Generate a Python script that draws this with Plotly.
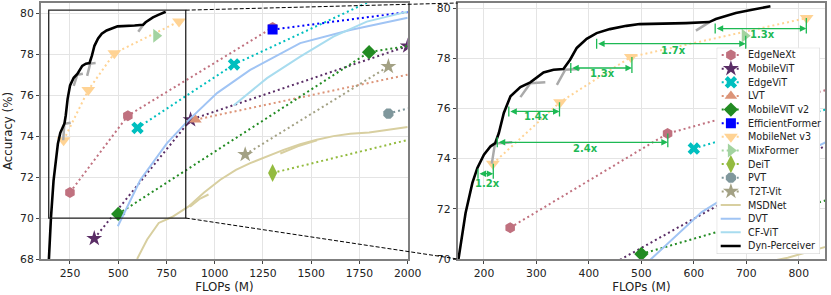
import plotly.graph_objects as go

# ------------------------------------------------------------------ data
edgenext_x = [250, 550, 1300]
edgenext_y = [71.25, 75.0, 79.3]
mobilevit_x = [376, 875, 2000]
mobilevit_y = [69.0, 74.8, 78.4]
edgevit_x = [600, 1100, 1900]
edgevit_y = [74.4, 77.5, 81.0]
lvt_x = [900, 2500]
lvt_y = [74.8, 78.0]
mobilevitv2_x = [500, 1800, 2800]
mobilevitv2_y = [70.2, 78.1, 79.6]
efficientformer_x = [1300, 3900]
efficientformer_y = [79.2, 82.4]
mobilenetv3_x = [217, 345, 480, 815]
mobilenetv3_y = [73.8, 76.25, 78.05, 79.6]
mixformer_x = [697]
mixformer_y = [78.9]
deit_x = [1300, 4600]
deit_y = [72.2, 79.8]
pvt_x = [1900, 3800]
pvt_y = [75.1, 79.8]
t2t_x = [1158, 1900]
t2t_y = [73.1, 77.4]

msdnet_x = [598, 650, 710, 779, 865, 945, 1029, 1110, 1184, 1270, 1357, 1443, 1529, 1615, 1702, 1800, 1900, 2000]
msdnet_y = [68.0, 68.95, 69.76, 70.05, 70.57, 71.25, 71.87, 72.35, 72.68, 73.0, 73.33, 73.6, 73.82, 74.0, 74.12, 74.18, 74.3, 74.45]
msdnet_b_x = [872, 925, 968, None, 1340, 1430, 1530]
msdnet_b_y = [70.55, 70.95, 71.15, None, 73.15, 73.5, 73.8]

dvt_x = [498, 615, 753, 857, 1012, 1184, 1443, 1702, 2000]
dvt_y = [69.6, 71.87, 73.66, 74.71, 76.1, 77.23, 78.54, 79.18, 79.78]
cfvit_x = [1098, 1271, 1443, 1615, 1788, 2000]
cfvit_y = [75.5, 76.83, 77.88, 78.86, 79.59, 80.08]

dyn_x = [141, 145, 151.5, 165, 178, 187.5, 200, 212.7, 221.6, 228.4, 237.9, 250.6, 269.5, 288.4,
         313.6, 332.6, 351.5, 364.2, 376.9, 395.8, 414.8, 440, 471.6, 496.8, 585, 629.3, 642,
         680, 711, 746]
dyn_y = [68.0, 69.0, 70.0, 71.83, 73.03, 73.63, 74.16, 74.49, 74.62, 75.02, 75.82, 76.48, 76.85, 77.04,
         77.43, 77.54, 77.57, 77.94, 78.41, 78.77, 79.0, 79.16, 79.29, 79.36, 79.40, 79.44, 79.56,
         79.8, 79.93, 80.07]
dyn_alt_x = [215, 221, 254, None, 269.5, 288.4, 317, None, 339, 355, 383, None, 604, 629]
dyn_alt_y = [73.8, 74.6, 74.65, None, 76.45, 77.0, 77.04, None, 76.94, 77.54, 77.57, None, 79.1, 79.43]

# speed-up annotations (right panel)
arrow_x0 = [188.7, 225.4, 247.4, 365.5, 414.8, 640.7]
arrow_x1 = [217.8, 550.4, 344.0, 482.0, 698.9, 814.4]
arrow_y = [73.4, 74.65, 75.88, 77.61, 78.58, 79.18]
arrow_top = [73.8, 75.0, 76.25, 78.05, 78.9, 79.6]
arrow_labels = ["1.2x", "2.4x", "1.4x", "1.3x", "1.7x", "1.3x"]
label_x = [206, 392.6, 300, 426, 561, 730]
label_y = [73.0, 74.42, 75.66, 77.41, 78.31, 78.96]

left_xticks = [250, 500, 750, 1000, 1250, 1500, 1750, 2000]
left_yticks = [68, 70, 72, 74, 76, 78, 80]
right_xticks = [200, 300, 400, 500, 600, 700, 800]
right_yticks = [70, 72, 74, 76, 78, 80]
zoom_box_x = [140, 850]
zoom_box_y = [70, 80.15]

# ------------------------------------------------------------------ styles
series = [
    dict(name="EdgeNeXt", x=edgenext_x, y=edgenext_y, color="#c0717f", symbol="hexagon", size=11),
    dict(name="MobileViT", x=mobilevit_x, y=mobilevit_y, color="#5a2d66", symbol="star", size=12),
    dict(name="EdgeViT", x=edgevit_x, y=edgevit_y, color="#00bfbf", symbol="x", size=11),
    dict(name="LVT", x=lvt_x, y=lvt_y, color="#dc9478", symbol="triangle-up", size=11),
    dict(name="MobileViT v2", x=mobilevitv2_x, y=mobilevitv2_y, color="#228b22", symbol="diamond", size=11),
    dict(name="EfficientFormer", x=efficientformer_x, y=efficientformer_y, color="#0000ff", symbol="square", size=10),
    dict(name="MobileNet v3", x=mobilenetv3_x, y=mobilenetv3_y, color="#ffd394", symbol="triangle-down", size=12),
    dict(name="MixFormer", x=mixformer_x, y=mixformer_y, color="#a3d3a0", symbol="triangle-right", size=12),
    dict(name="DeiT", x=deit_x, y=deit_y, color="#93bb3f", symbol="diamond-tall", size=13),
    dict(name="PVT", x=pvt_x, y=pvt_y, color="#7f979c", symbol="octagon", size=11),
    dict(name="T2T-Vit", x=t2t_x, y=t2t_y, color="#a3a184", symbol="star", size=12),
]
lines = [
    dict(name="MSDNet", x=msdnet_x, y=msdnet_y, color="#d8cfa0", width=2),
    dict(name="DVT", x=dvt_x, y=dvt_y, color="#a0c4f4", width=2),
    dict(name="CF-ViT", x=cfvit_x, y=cfvit_y, color="#a8dcef", width=2),
    dict(name="Dyn-Perceiver", x=dyn_x, y=dyn_y, color="black", width=2.6),
]
GREEN = "#1db954"
FONT = "DejaVu Sans"
DOT = "2px,3px"

fig = go.Figure()

for xa, ya in (("x", "y"), ("x2", "y2")):
    for s in series:
        fig.add_trace(go.Scatter(x=s["x"], y=s["y"], mode="lines+markers", xaxis=xa, yaxis=ya,
                                 line=dict(color=s["color"], width=2, dash=DOT),
                                 marker=dict(symbol=s["symbol"], size=s["size"], color=s["color"],
                                             line=dict(width=0)),
                                 showlegend=False, hoverinfo="skip"))
    for s in lines[:3]:
        fig.add_trace(go.Scatter(x=s["x"], y=s["y"], mode="lines", xaxis=xa, yaxis=ya,
                                 line=dict(color=s["color"], width=s["width"]),
                                 showlegend=False, hoverinfo="skip"))
        if s["name"] == "MSDNet":
            fig.add_trace(go.Scatter(x=msdnet_b_x, y=msdnet_b_y, mode="lines", xaxis=xa, yaxis=ya,
                                     line=dict(color=s["color"], width=2),
                                     showlegend=False, hoverinfo="skip"))
    fig.add_trace(go.Scatter(x=dyn_alt_x, y=dyn_alt_y, mode="lines", xaxis=xa, yaxis=ya,
                             line=dict(color="#aaaaaa", width=2.5), showlegend=False, hoverinfo="skip"))
    d = lines[3]
    fig.add_trace(go.Scatter(x=d["x"], y=d["y"], mode="lines", xaxis=xa, yaxis=ya,
                             line=dict(color=d["color"], width=d["width"]),
                             showlegend=False, hoverinfo="skip"))

# ------------------------------------------------------------------ geometry
W, H = 831, 295
L, R, T, B = 41, 6, 3, 36
pw, ph = W - L - R, H - T - B


def pxx(px):
    return (px - L) / pw


def pxy(py):
    return (H - B - py) / ph


left_dom = [0, pxx(407.7)]
right_dom = [pxx(457.7), 1]
left_xr, left_yr = [100, 2000], [68, 80.5]
right_xr, right_yr = [150, 850], [70, 80.2]

# ------------------------------------------------------------------ manual legend (x3/y3 in pixel units)
leg_px = [716.7, 820.0, 47.7, 254.0]
leg_w, leg_h = leg_px[1] - leg_px[0], leg_px[3] - leg_px[2]
fig.add_trace(go.Scatter(x=[0, leg_w, leg_w, 0, 0], y=[0, 0, leg_h, leg_h, 0], mode="lines",
                         fill="toself", fillcolor="rgba(255,255,255,0.82)",
                         line=dict(color="#cccccc", width=1), xaxis="x3", yaxis="y3",
                         showlegend=False, hoverinfo="skip"))
entries = series + lines
for i, s in enumerate(entries):
    yy = leg_h - (7.3 + 13.64 * i)
    if "symbol" in s:
        fig.add_trace(go.Scatter(x=[5, 23.3], y=[yy, yy], mode="lines", xaxis="x3", yaxis="y3",
                                 line=dict(color=s["color"], width=2, dash=DOT),
                                 showlegend=False, hoverinfo="skip"))
        fig.add_trace(go.Scatter(x=[14.2], y=[yy], mode="markers", xaxis="x3", yaxis="y3",
                                 marker=dict(symbol=s["symbol"], size=s["size"], color=s["color"]),
                                 showlegend=False, hoverinfo="skip"))
    else:
        fig.add_trace(go.Scatter(x=[4, 24], y=[yy, yy], mode="lines", xaxis="x3", yaxis="y3",
                                 line=dict(color=s["color"], width=s["width"]),
                                 showlegend=False, hoverinfo="skip"))
    fig.add_annotation(x=29.5, y=yy, xref="x3", yref="y3", text=s["name"], showarrow=False,
                       xanchor="left", yanchor="middle", font=dict(size=9.6, color="#222", family=FONT))

# ------------------------------------------------------------------ speed-up arrows
for x0, x1, y, top, lab, lx, ly in zip(arrow_x0, arrow_x1, arrow_y, arrow_top, arrow_labels, label_x, label_y):
    fig.add_annotation(x=x1, y=y, ax=x0, ay=y, xref="x2", yref="y2", axref="x2", ayref="y2",
                       text="", showarrow=True, arrowhead=2, startarrowhead=2, arrowside="end+start",
                       arrowsize=1, startarrowsize=1, arrowwidth=1.3, arrowcolor=GREEN, standoff=0,
                       startstandoff=0)
    fig.add_shape(type="line", xref="x2", yref="y2", x0=x0, x1=x0, y0=y - 0.2, y1=y + 0.2,
                  line=dict(color=GREEN, width=1.3))
    fig.add_shape(type="line", xref="x2", yref="y2", x0=x1, x1=x1, y0=y - 0.2, y1=top,
                  line=dict(color=GREEN, width=1.3))
    fig.add_annotation(x=lx, y=ly, xref="x2", yref="y2", text="<b>%s</b>" % lab, showarrow=False,
                       font=dict(size=10, color=GREEN, family=FONT))

# ------------------------------------------------------------------ zoom box + connectors
fig.add_shape(type="rect", xref="x", yref="y", x0=zoom_box_x[0], x1=zoom_box_x[1],
              y0=zoom_box_y[0], y1=zoom_box_y[1], line=dict(color="#222", width=1.3))


def lpx(v):
    return left_dom[0] + (left_dom[1] - left_dom[0]) * (v - left_xr[0]) / (left_xr[1] - left_xr[0])


def lpy(v):
    return (v - left_yr[0]) / (left_yr[1] - left_yr[0])


fig.add_shape(type="line", xref="paper", yref="paper", x0=lpx(zoom_box_x[1]), y0=lpy(zoom_box_y[1]),
              x1=right_dom[0], y1=1, line=dict(color="black", width=1, dash="4px,2px"))
fig.add_shape(type="line", xref="paper", yref="paper", x0=lpx(zoom_box_x[1]), y0=lpy(zoom_box_y[0]),
              x1=right_dom[0], y1=0, line=dict(color="black", width=1, dash="4px,2px"))

# ------------------------------------------------------------------ axes
axis_common = dict(showgrid=True, gridcolor="#e4e4e4", gridwidth=1, zeroline=False,
                   showline=True, linecolor="#7f7f7f", linewidth=2, mirror=True,
                   ticks="outside", ticklen=3, tickcolor="#444", automargin=False,
                   tickfont=dict(size=10.8, color="#222", family=FONT))
fig.update_layout(
    width=W, height=H, margin=dict(l=L, r=R, t=T, b=B, autoexpand=False),
    paper_bgcolor="white", plot_bgcolor="white", showlegend=False,
    font=dict(family=FONT, color="#222"),
    xaxis=dict(domain=left_dom, range=left_xr, tickvals=left_xticks,
               title=dict(text="FLOPs (M)", font=dict(size=11.8), standoff=3), **axis_common),
    yaxis=dict(domain=[0, 1], range=left_yr, tickvals=left_yticks,
               title=dict(text="Accuracy (%)", font=dict(size=11.8), standoff=5), **axis_common),
    xaxis2=dict(domain=right_dom, range=right_xr, tickvals=right_xticks, anchor="y2",
                title=dict(text="FLOPs (M)", font=dict(size=11.8), standoff=3), **axis_common),
    yaxis2=dict(domain=[0, 1], range=right_yr, tickvals=right_yticks, anchor="x2", **axis_common),
    xaxis3=dict(domain=[pxx(leg_px[0]), pxx(leg_px[1])], range=[0, leg_w], visible=False,
                anchor="y3", fixedrange=True),
    yaxis3=dict(domain=[pxy(leg_px[3]), pxy(leg_px[2])], range=[0, leg_h], visible=False,
                anchor="x3", fixedrange=True),
)

fig.write_html("out.html", config={"displayModeBar": False},
               post_script="document.body.style.margin='0';")
